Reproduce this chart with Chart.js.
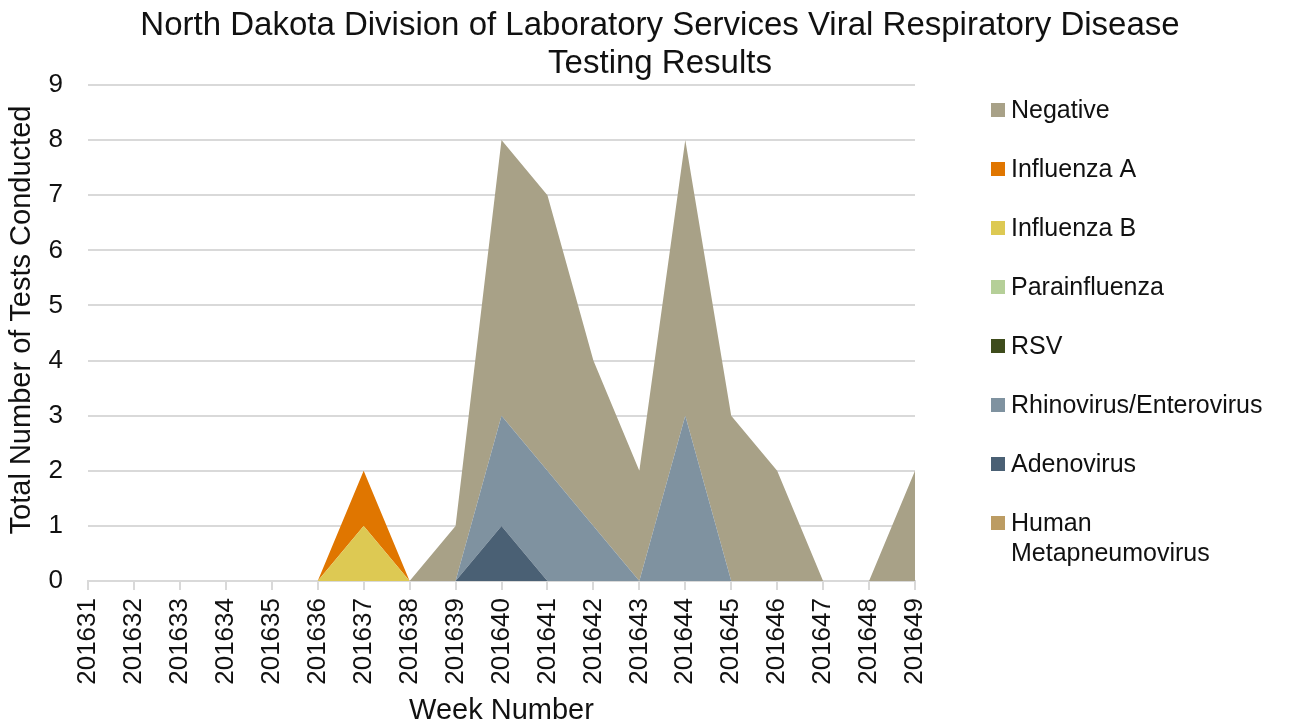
<!DOCTYPE html>
<html>
<head>
<meta charset="utf-8">
<script src="https://cdn.jsdelivr.net/npm/chart.js@4/dist/chart.umd.min.js"></script>
<style>
  html, body { margin: 0; padding: 0; background: #fff; }
  #wrap { width: 1299px; height: 725px; }
</style>
</head>
<body>
<div id="wrap"><canvas id="chart" width="1299" height="725"></canvas></div>
<script>
"use strict";

var weeks = ["201631", "201632", "201633", "201634", "201635", "201636", "201637",
    "201638", "201639", "201640", "201641", "201642", "201643", "201644",
    "201645", "201646", "201647", "201648", "201649"];

// series, bottom of the stack first
var hmpv        = [0, 0, 0, 0, 0, 0, 0, 0, 0, 0, 0, 0, 0, 0, 0, 0, 0, 0, 0];
var adenovirus  = [0, 0, 0, 0, 0, 0, 0, 0, 0, 1, 0, 0, 0, 0, 0, 0, 0, 0, 0];
var rhinovirus  = [0, 0, 0, 0, 0, 0, 0, 0, 0, 2, 2, 1, 0, 3, 0, 0, 0, 0, 0];
var rsv         = [0, 0, 0, 0, 0, 0, 0, 0, 0, 0, 0, 0, 0, 0, 0, 0, 0, 0, 0];
var parainfl    = [0, 0, 0, 0, 0, 0, 0, 0, 0, 0, 0, 0, 0, 0, 0, 0, 0, 0, 0];
var influenzaB  = [0, 0, 0, 0, 0, 0, 1, 0, 0, 0, 0, 0, 0, 0, 0, 0, 0, 0, 0];
var influenzaA  = [0, 0, 0, 0, 0, 0, 1, 0, 0, 0, 0, 0, 0, 0, 0, 0, 0, 0, 0];
var negative    = [0, 0, 0, 0, 0, 0, 0, 0, 1, 5, 5, 3, 2, 5, 3, 2, 0, 0, 2];

var seriesNames = ["Human Metapneumovirus", "Adenovirus", "Rhinovirus/Enterovirus",
    "RSV", "Parainfluenza", "Influenza B", "Influenza A", "Negative"];
var seriesValues = [hmpv, adenovirus, rhinovirus, rsv, parainfl, influenzaB, influenzaA, negative];
var seriesColors = ["#BC9C63", "#4A6074", "#7F92A0", "#3E4C1C", "#B5CF98",
    "#DDC953", "#E07600", "#A8A187"];

var yTicks = [0, 1, 2, 3, 4, 5, 6, 7, 8, 9];

var titleLines = ["North Dakota Division of Laboratory Services Viral Respiratory Disease",
    "Testing Results"];
var yTitle = "Total Number of Tests Conducted";
var legendLines = { "Human Metapneumovirus": ["Human", "Metapneumovirus"] };

var FONT = "'Liberation Sans', Arial, sans-serif";
var TEXT = "#111111";
var GRID = "#D9D9D9";

var datasets = seriesNames.map(function (name, i) {
    return {
        label: name,
        data: seriesValues[i],
        backgroundColor: seriesColors[i],
        borderColor: "rgba(0,0,0,0)",
        borderWidth: 0,
        pointRadius: 0,
        pointHoverRadius: 0,
        tension: 0,
        fill: i === 0 ? "origin" : "-1"
    };
});

// title, y title and legend drawn by hand so they sit where the original has them
var sidePlugin = {
    id: "sideText",
    afterDraw: function (chart) {
        var ctx = chart.ctx;
        ctx.save();
        ctx.fillStyle = TEXT;
        ctx.textAlign = "center";
        ctx.textBaseline = "middle";
        ctx.font = "33px " + FONT;
        ctx.fillText(titleLines[0], 660, 26);
        ctx.fillText(titleLines[1], 660, 64);

        ctx.save();
        ctx.translate(22, 320);
        ctx.rotate(-Math.PI / 2);
        ctx.font = "29px " + FONT;
        ctx.fillText(yTitle, 0, 0);
        ctx.restore();

        ctx.textAlign = "left";
        ctx.font = "25px " + FONT;
        var k = 0;
        for (var i = chart.data.datasets.length - 1; i >= 0; i--) {
            var ds = chart.data.datasets[i];
            var y = 110 + k * 59;
            ctx.fillStyle = ds.backgroundColor;
            ctx.fillRect(991, y - 7, 14, 14);
            ctx.fillStyle = TEXT;
            var lines = legendLines[ds.label] || [ds.label];
            for (var j = 0; j < lines.length; j++) {
                ctx.fillText(lines[j], 1011, y + 1 + j * 30);
            }
            k++;
        }
        ctx.restore();
    }
};

new Chart(document.getElementById("chart").getContext("2d"), {
    type: "line",
    data: { labels: weeks, datasets: datasets },
    plugins: [sidePlugin],
    options: {
        responsive: false,
        animation: false,
        events: [],
        layout: { padding: { top: 85, right: 384, bottom: 0, left: 0 } },
        plugins: {
            legend: { display: false },
            title: { display: false },
            tooltip: { enabled: false },
            filler: { propagate: false }
        },
        scales: {
            x: {
                offset: false,
                afterFit: function (scale) { scale.height = 144; },
                grid: {
                    display: true,
                    drawOnChartArea: false,
                    drawTicks: true,
                    tickLength: 9,
                    color: GRID,
                    lineWidth: 2
                },
                border: { display: true, color: GRID, width: 2 },
                ticks: {
                    autoSkip: false,
                    maxRotation: 90,
                    minRotation: 90,
                    padding: 8,
                    color: TEXT,
                    font: { family: FONT, size: 26 }
                },
                title: {
                    display: true,
                    text: "Week Number",
                    color: TEXT,
                    padding: 0,
                    font: { family: FONT, size: 29, lineHeight: 1 }
                }
            },
            y: {
                stacked: true,
                min: 0,
                max: 9,
                afterFit: function (scale) { scale.width = 88; },
                afterBuildTicks: function (scale) {
                    scale.ticks = yTicks.map(function (v) { return { value: v }; });
                },
                grid: { color: GRID, lineWidth: 2, drawTicks: false },
                border: { display: false },
                ticks: {
                    padding: 25,
                    color: TEXT,
                    font: { family: FONT, size: 26 }
                },
                title: { display: false }
            }
        }
    }
});
</script>
</body>
</html>
